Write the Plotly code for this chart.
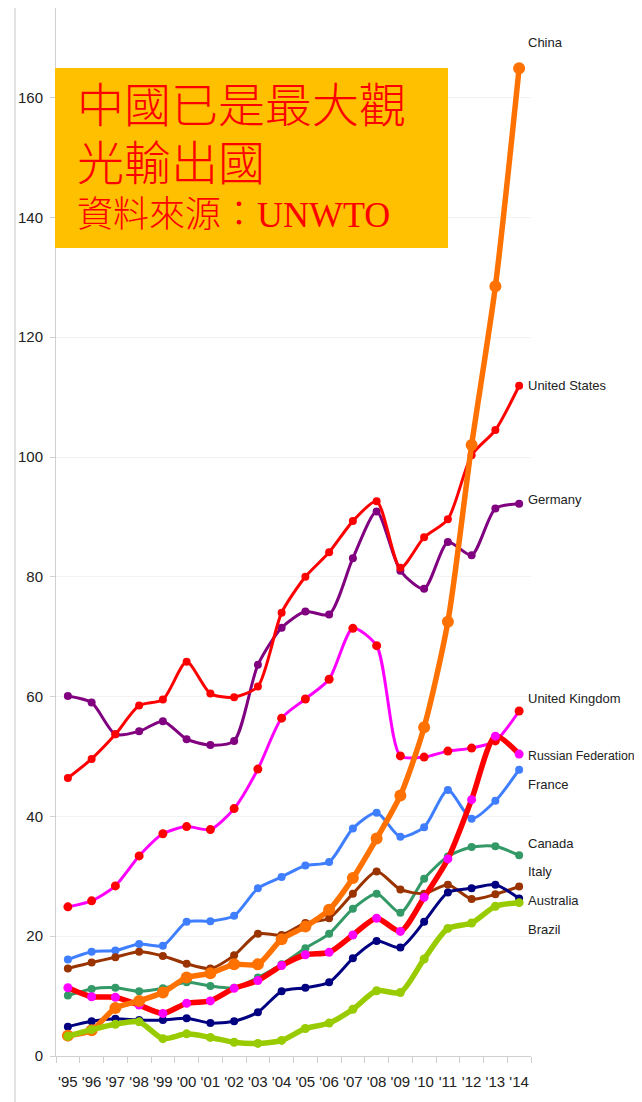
import plotly.graph_objects as go

years = ["'95", "'96", "'97", "'98", "'99", "'00", "'01", "'02", "'03", "'04",
         "'05", "'06", "'07", "'08", "'09", "'10", "'11", "'12", "'13", "'14"]

china = [3.4, 4.3, 8.0, 9.2, 10.6, 13.1, 13.8, 15.3, 15.3, 19.5,
         21.6, 24.4, 29.7, 36.3, 43.5, 54.9, 72.5, 102.0, 128.5, 164.9]
usa = [46.4, 49.6, 53.7, 58.5, 59.5, 65.8, 60.5, 59.9, 61.7, 74.0,
       80.0, 84.1, 89.3, 92.6, 81.5, 86.6, 89.6, 100.3, 104.5, 111.9]
germany = [60.1, 59.0, 53.7, 54.2, 55.9, 52.9, 51.9, 52.6, 65.3, 71.5,
           74.2, 73.7, 83.1, 90.9, 81.0, 78.0, 85.8, 83.6, 91.4, 92.2]
uk = [24.9, 25.9, 28.4, 33.4, 37.1, 38.3, 37.8, 41.3, 47.9, 56.4,
      59.6, 62.9, 71.4, 68.5, 50.1, 49.9, 50.9, 51.4, 52.6, 57.6]
russia = [11.4, 9.9, 9.8, 8.5, 7.1, 8.8, 9.2, 11.3, 12.6, 15.1,
          16.9, 17.3, 20.2, 23.0, 20.8, 26.5, 32.9, 42.8, 53.4, 50.4]
france = [16.1, 17.4, 17.6, 18.7, 18.4, 22.4, 22.5, 23.4, 28.0, 29.9,
          31.8, 32.4, 38.0, 40.6, 36.6, 38.2, 44.4, 39.6, 42.6, 47.8]
canada = [10.1, 11.2, 11.4, 10.8, 11.3, 12.3, 11.7, 11.4, 13.1, 15.3,
          18.0, 20.4, 24.6, 27.1, 23.9, 29.6, 33.3, 34.9, 35.0, 33.5]
italy = [14.6, 15.6, 16.5, 17.4, 16.7, 15.4, 14.6, 16.8, 20.4, 20.2,
         22.2, 23.0, 27.1, 30.8, 27.8, 27.1, 28.6, 26.2, 27.0, 28.3]
australia = [4.9, 5.8, 6.2, 6.0, 6.0, 6.3, 5.5, 5.8, 7.3, 10.8,
             11.4, 12.3, 16.3, 19.2, 18.1, 22.4, 27.3, 28.0, 28.6, 26.3]
brazil = [3.3, 4.4, 5.3, 5.7, 2.9, 3.7, 3.1, 2.3, 2.1, 2.6,
          4.6, 5.5, 7.8, 10.9, 10.6, 16.2, 21.3, 22.2, 25.0, 25.6]

title_line1 = "中國已是最大觀"
title_line2 = "光輸出國"
title_line3 = "資料來源：UNWTO"

# page geometry: the HTML body has an 8px margin, so the figure starts at (8, 8)
OFF = 8
W, H = 642 - OFF, 1102 - OFF
# plot area in page pixels
PL, PR, PT, PB = 56, 531, 8, 1056


def px(x):
    return (x - PL) / (PR - PL)


def py(y):
    return (PB - y) / (PB - PT)


series = [
    # name, values, line color, marker color, line width, marker size, label y px, label size
    ("Germany", germany, "#800080", "#800080", 3, 8, 500, 13),
    ("United States", usa, "#ff0000", "#ff0000", 3, 8, 385, 13),
    ("United Kingdom", uk, "#ff00ff", "#ff0000", 3, 9, 698, 13),
    ("France", france, "#3f7fff", "#3f7fff", 3, 8, 785, 13),
    ("Canada", canada, "#339966", "#339966", 3, 8, 843, 13),
    ("Italy", italy, "#993300", "#993300", 3, 8, 871, 13),
    ("Australia", australia, "#000080", "#000080", 3, 8, 900, 13),
    ("Russian Federation", russia, "#ff0000", "#ff00ff", 5.5, 9, 756, 12.3),
    ("China", china, "#ff7100", "#ff7100", 5.5, 12, 42, 13),
    ("Brazil", brazil, "#99cc00", "#99cc00", 5.5, 9, 929, 13),
]

fig = go.Figure()
for name, vals, lc, mc, lw, ms, _, _ in series:
    fig.add_trace(go.Scatter(
        x=years, y=vals, mode="lines+markers", name=name,
        line=dict(color=lc, width=lw, shape="spline", smoothing=0.7),
        marker=dict(color=mc, size=ms),
        showlegend=False,
    ))

narrow = "Liberation Sans Narrow, Arial Narrow, Liberation Sans, Arial, sans-serif"
annotations = []
for name, _, _, _, _, _, ly, ls in series:
    annotations.append(dict(
        x=px(526), y=py(ly), xref="paper", yref="paper",
        text=name, showarrow=False, xanchor="left", yanchor="middle",
        font=dict(family=narrow, size=ls, color="#222222"),
    ))

title_font = "Liberation Serif, Noto Sans CJK TC, serif"
annotations += [
    dict(x=px(75), y=py(106), xref="paper", yref="paper", text=title_line1,
         showarrow=False, xanchor="left", yanchor="middle",
         font=dict(family=title_font, size=47, color="#ff0000", weight=300)),
    dict(x=px(75), y=py(164), xref="paper", yref="paper", text=title_line2,
         showarrow=False, xanchor="left", yanchor="middle",
         font=dict(family=title_font, size=47, color="#ff0000", weight=300)),
    dict(x=px(75), y=py(215), xref="paper", yref="paper", text=title_line3,
         showarrow=False, xanchor="left", yanchor="middle",
         font=dict(family=title_font, size=36, color="#ff0000", weight=300)),
]

shapes = [
    dict(type="rect", xref="paper", yref="paper",
         x0=px(55), x1=px(448), y0=py(248), y1=py(68),
         fillcolor="#ffc000", line=dict(width=0), layer="above"),
    dict(type="line", xref="paper", yref="paper",
         x0=px(15), x1=px(15), y0=py(1110), y1=py(8),
         line=dict(color="#c8c8c8", width=1)),
]

fig.update_layout(
    width=W, height=H,
    margin=dict(l=PL - OFF, r=W - (PR - OFF), t=PT - OFF, b=H - (PB - OFF)),
    paper_bgcolor="white", plot_bgcolor="white",
    annotations=annotations, shapes=shapes,
    xaxis=dict(
        type="category", tickson="boundaries", ticks="outside", ticklen=6,
        tickcolor="#d0d0d0", showline=True, linecolor="#d0d0d0",
        showgrid=False, zeroline=False, tickangle=0,
        tickfont=dict(family=narrow, size=15, color="#222222"),
        ticklabelstandoff=12, range=[-0.5, 19.5],
    ),
    yaxis=dict(
        range=[0, (PB - PT) / 5.99], tickvals=[0, 20, 40, 60, 80, 100, 120, 140, 160],
        ticks="outside", ticklen=5, tickcolor="#d0d0d0",
        showline=True, linecolor="#d0d0d0", showgrid=True, gridcolor="#f3f3f3",
        zeroline=False, tickfont=dict(family=narrow, size=15, color="#222222"),
        ticklabelstandoff=4,
    ),
)

fig.write_html("out.html")
